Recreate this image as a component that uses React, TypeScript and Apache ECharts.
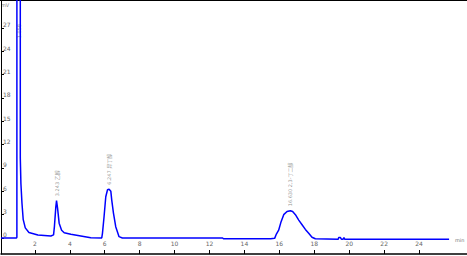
import React, { useEffect, useRef } from "react";
import * as echarts from "echarts";

// Chromatogram trace (time in min, signal in mV)
const times = [
  0.06, 0.95, 0.97, 0.985, 1.15, 1.165, 1.2, 1.26, 1.33, 1.45, 1.66, 2.17, 2.917,
  3.07, 3.12, 3.2, 3.24, 3.3, 3.39, 3.53, 3.68, 4.06, 4.63, 5.2, 5.83,
  5.87, 5.96, 6.06, 6.16, 6.25, 6.35, 6.4, 6.5, 6.63, 6.82, 7.01, 12.75,
  12.8, 15.5, 15.73, 15.83, 15.96, 16.1, 16.25, 16.44, 16.63, 16.76, 16.92,
  17.11, 17.3, 17.49, 17.68, 17.87, 18.06, 19.37, 19.4, 19.5, 19.55, 19.65,
  19.7, 19.74, 25.72,
];
const signal = [
  0, 0, 0.1, 900, 900, 10.3, 7.0, 4.5, 2.4, 1.3, 0.7, 0.39, 0.26,
  0.4, 1.5, 4.0, 4.8, 3.8, 1.9, 1.0, 0.68, 0.47, 0.26, 0.04, 0.0,
  0.6, 2.7, 5.3, 6.2, 6.27, 6.0, 4.9, 3.2, 1.45, 0.17, 0, 0,
  -0.1, -0.1, -0.05, 0.5, 1.0, 2.1, 3.0, 3.4, 3.5, 3.4, 3.0,
  2.3, 1.7, 1.1, 0.6, 0.1, -0.1, -0.15, 0.05, 0.05, -0.15, -0.15,
  0.05, -0.15, -0.15,
];

// Peak annotations
const peakTimes = [1.07, 3.24, 6.25, 16.63];
const peakLabelBase = [25.1, 4.8, 6.27, 3.5];
const peakLabels = ["1.058", "3.243 乙醇", "6.247 异丁醇", "16.630 2,3-丁二醇"];

const yTicks = [0, 3, 6, 9, 12, 15, 18, 21, 24, 27];
const xTicks = [2, 4, 6, 8, 10, 12, 14, 16, 18, 20, 22, 24];

export default function App() {
  const ref = useRef<HTMLDivElement>(null);
  useEffect(() => {
    if (!ref.current) return;
    const chart = echarts.init(ref.current, undefined, { renderer: "svg" });
    const fontFamily = "DejaVu Sans, Noto Sans CJK SC, sans-serif";
    chart.setOption({
      animation: false,
      grid: { left: 0, right: 0, top: 0, bottom: 2 },
      xAxis: {
        type: "value",
        min: 0.06,
        max: 0.06 + 467 / 17.5,
        axisLine: { show: true, onZero: false, lineStyle: { color: "#000", width: 1.5 } },
        axisTick: { show: true, inside: true, length: 4, customValues: xTicks, lineStyle: { color: "#000" } },
        axisLabel: { show: true, inside: true, margin: 8, customValues: xTicks, fontSize: 6, color: "#666", fontFamily },
        splitLine: { show: false },
      },
      yAxis: {
        type: "value",
        min: -2.06,
        max: 30.6,
        axisLine: { show: true, onZero: false, lineStyle: { color: "#000", width: 1 } },
        axisTick: { show: true, inside: true, length: 3, customValues: yTicks, lineStyle: { color: "#000" } },
        axisLabel: {
          show: true, inside: true, margin: 2, customValues: yTicks, fontSize: 6,
          color: "#666", fontFamily, verticalAlign: "bottom", align: "left",
        },
        splitLine: { show: false },
      },
      series: [
        {
          type: "line",
          data: times.map((t, i) => [t, signal[i]]),
          showSymbol: false,
          symbol: "none",
          clip: true,
          lineStyle: { color: "#0000ff", width: 1.5 },
        },
        {
          type: "scatter",
          data: peakTimes.map((t, i) => [t, peakLabelBase[i]]),
          symbolSize: 1,
          itemStyle: { color: "rgba(0,0,0,0)" },
          labelLayout: { hideOverlap: false },
          label: {
            show: true,
            position: "top",
            distance: 4,
            rotate: 90,
            align: "left",
            verticalAlign: "middle",
            offset: [0, 0],
            fontSize: 5,
            color: "#777",
            fontFamily,
            formatter: (p: any) => peakLabels[p.dataIndex],
          },
        },
      ],
      graphic: [
        { type: "line", shape: { x1: 0, y1: 0.5, x2: 467, y2: 0.5 }, style: { stroke: "#000", lineWidth: 1 } },
        { type: "text", left: 1, top: 2, style: { text: "mV", fontSize: 5, fill: "#777", fontFamily } },
        { type: "text", left: 455, top: 237, style: { text: "min", fontSize: 5, fill: "#777", fontFamily } },
      ],
    });
    return () => chart.dispose();
  }, []);
  return <div ref={ref} style={{ width: 467, height: 256, position: "absolute", left: 0, top: 0 }} />;
}
